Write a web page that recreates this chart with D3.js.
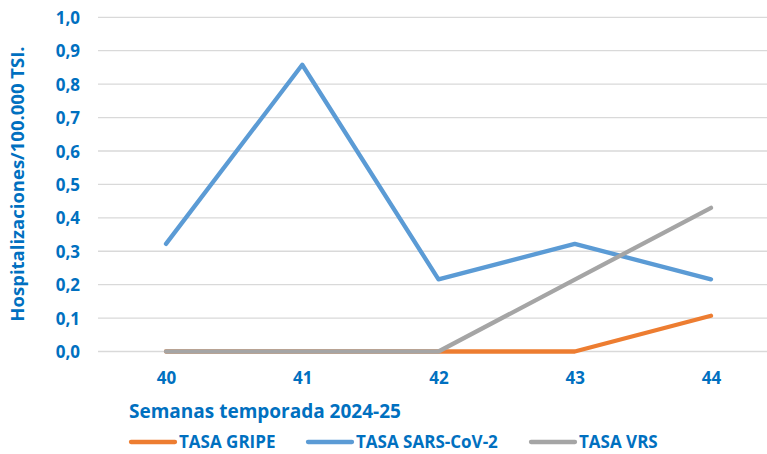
<!DOCTYPE html>
<html>
  <head>
    <meta charset="utf-8">
    <style>
      body { margin: 0; background: #fff; }
      text { font-family: "Open Sans", Lato, sans-serif; font-weight: bold; fill: #0070C0; }
    </style>
    <script src="https://d3js.org/d3.v7.min.js"></script>
  </head>
  <body>
    <svg></svg>
    <script>
    var weeks = ["40", "41", "42", "43", "44"];
    var gripe = [0, 0, 0, 0, 0.107];
    var sars = [0.322, 0.858, 0.216, 0.322, 0.216];
    var vrs = [0, 0, 0, 0.215, 0.43];
    var yTicks = [0, 0.1, 0.2, 0.3, 0.4, 0.5, 0.6, 0.7, 0.8, 0.9, 1.0];

    var series = [
      {name: "TASA GRIPE", values: gripe, color: "#ED7D31"},
      {name: "TASA SARS-CoV-2", values: sars, color: "#5B9BD5"},
      {name: "TASA VRS", values: vrs, color: "#A5A5A5"}
    ];

    var width = 767;
    var height = 454;

    var svg = d3.select("svg")
        .attr("width", width)
        .attr("height", height);

    var x = d3.scalePoint()
        .domain(weeks)
        .range([166, 711]);

    var y = d3.scaleLinear()
        .domain([0, 1])
        .range([351.5, 17.3]);

    // grid
    svg.append("g")
      .selectAll("line")
      .data(yTicks)
      .enter().append("line")
        .attr("x1", 98)
        .attr("x2", width)
        .attr("y1", function(d) { return y(d); })
        .attr("y2", function(d) { return y(d); })
        .attr("stroke", "#D9D9D9")
        .attr("stroke-width", 1.3);

    // y axis labels
    var yAxis = svg.append("g")
        .attr("transform", "translate(80,0)")
        .call(d3.axisLeft(y)
          .tickValues(yTicks)
          .tickSize(0)
          .tickPadding(0)
          .tickFormat(function(d) { return d3.format(".1f")(d).replace(".", ","); }));
    yAxis.select(".domain").remove();
    yAxis.selectAll("text")
        .style("font-size", "17px")
        .attr("dy", "0.36em")
        .attr("fill", "#0070C0");

    // x axis labels
    var xAxis = svg.append("g")
        .attr("transform", "translate(0,384)")
        .call(d3.axisBottom(x).tickSize(0).tickPadding(0));
    xAxis.select(".domain").remove();
    xAxis.selectAll("text")
        .style("font-size", "17px")
        .attr("dy", 0)
        .attr("fill", "#0070C0");

    var line = d3.line()
        .x(function(d, i) { return x(weeks[i]); })
        .y(function(d) { return y(d); });

    svg.append("g")
      .selectAll("path")
      .data(series)
      .enter().append("path")
        .attr("d", function(d) { return line(d.values); })
        .attr("fill", "none")
        .attr("stroke", function(d) { return d.color; })
        .attr("stroke-width", 4.3)
        .attr("stroke-linejoin", "round")
        .attr("stroke-linecap", "round");

    // axis titles
    svg.append("text")
        .attr("transform", "translate(24,184) rotate(-90)")
        .attr("text-anchor", "middle")
        .style("font-size", "18.5px")
        .text("Hospitalizaciones/100.000 TSI.");

    svg.append("text")
        .attr("x", 129)
        .attr("y", 418)
        .style("font-size", "19px")
        .text("Semanas temporada 2024-25");

    // legend
    var legendX = [130, 307, 530];
    var lg = svg.append("g")
      .selectAll("g")
      .data(series)
      .enter().append("g")
        .attr("transform", function(d, i) { return "translate(" + legendX[i] + ",442)"; });
    lg.append("line")
        .attr("x1", 1)
        .attr("x2", 45)
        .attr("stroke", function(d) { return d.color; })
        .attr("stroke-width", 4.3)
        .attr("stroke-linecap", "round");
    lg.append("text")
        .attr("x", 49)
        .attr("y", 6)
        .style("font-size", "17px")
        .text(function(d) { return d.name; });
    </script>
  </body>
</html>
